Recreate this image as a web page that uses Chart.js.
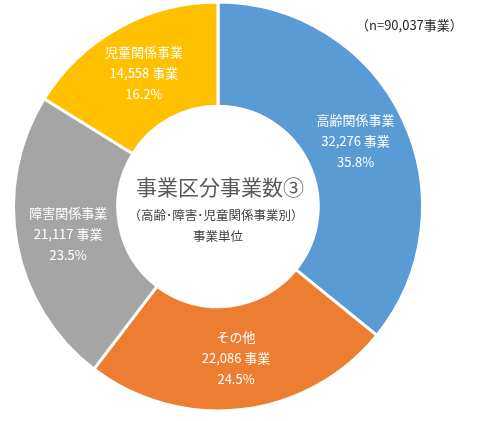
<!DOCTYPE html>
<html lang="ja">
<head>
<meta charset="utf-8">
<script src="https://cdn.jsdelivr.net/npm/chart.js@4"></script>
<style>
  html, body { margin: 0; padding: 0; background: #ffffff; }
  #wrap { position: relative; width: 481px; height: 421px; }
</style>
</head>
<body>
<div id="wrap"><canvas id="c" width="481" height="421"></canvas></div>
<script>
// 事業区分ごとの事業数
const categories = ['高齢関係事業', 'その他', '障害関係事業', '児童関係事業'];
const counts = [32276, 22086, 21117, 14558];
const colors = ['#5B9BD5', '#ED7D31', '#A5A5A5', '#FFC000'];
const centerTitle = '事業区分事業数③';
const centerSub = ['（高齢･障害･児童関係事業別）', '事業単位'];
const totalNote = '（n=90,037事業）';

const FONT = '"Noto Sans CJK JP", "Noto Sans", sans-serif';
const total = counts.reduce((a, b) => a + b, 0);

const sliceLabels = {
  id: 'sliceLabels',
  afterDatasetsDraw(chart) {
    const ctx = chart.ctx;
    const meta = chart.getDatasetMeta(0);
    ctx.save();
    ctx.textAlign = 'center';
    ctx.textBaseline = 'middle';
    ctx.fillStyle = '#ffffff';
    ctx.font = '13px ' + FONT;
    meta.data.forEach((arc, i) => {
      const p = arc.getCenterPoint();
      const v = counts[i];
      const lines = [
        categories[i],
        v.toLocaleString('en-US') + ' 事業',
        (v / total * 100).toFixed(1) + '%'
      ];
      lines.forEach((t, k) => ctx.fillText(t, p.x, p.y + (k - 1) * 21));
    });

    // 中央の見出し
    const cx = meta.data[0].x, cy = meta.data[0].y;
    ctx.fillStyle = '#595959';
    ctx.font = '21px ' + FONT;
    ctx.fillText(centerTitle, cx + 2, cy - 19);
    ctx.fillStyle = '#404040';
    ctx.font = '12.5px ' + FONT;
    ctx.fillText(centerSub[0], cx - 2, cy + 9);
    ctx.fillText(centerSub[1], cx, cy + 30);

    // 総数の注記
    ctx.textAlign = 'left';
    ctx.fillStyle = '#262626';
    ctx.font = '13px ' + FONT;
    ctx.fillText(totalNote, 356, 25);
    ctx.restore();
  }
};

new Chart(document.getElementById('c'), {
  type: 'doughnut',
  data: {
    labels: categories,
    datasets: [{
      data: counts,
      backgroundColor: colors,
      borderColor: '#ffffff',
      borderWidth: 3,
      hoverOffset: 0
    }]
  },
  options: {
    responsive: false,
    animation: false,
    radius: 204.5,
    cutout: 100.5,
    layout: { padding: { left: 0, right: 45, top: 0, bottom: 8 } },
    plugins: {
      legend: { display: false },
      tooltip: { enabled: false }
    }
  },
  plugins: [sliceLabels]
});
</script>
</body>
</html>
